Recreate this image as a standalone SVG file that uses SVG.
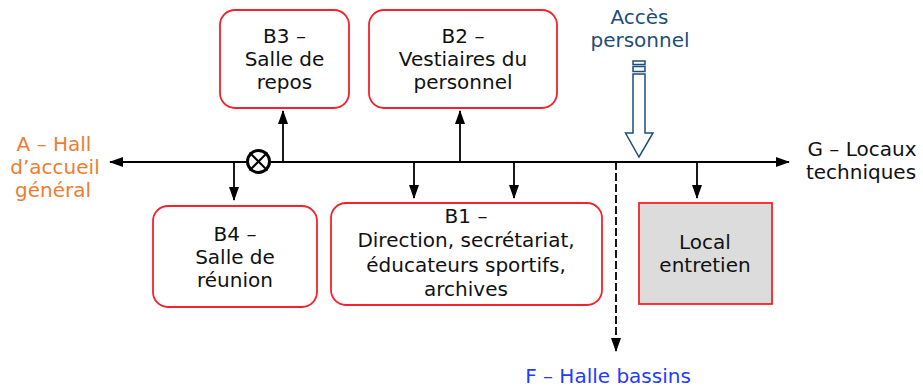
<svg xmlns="http://www.w3.org/2000/svg" width="923" height="389" viewBox="0 0 923 389">
<defs>
<style>
.box{fill:#fff;stroke:#f5222d;stroke-width:1.8}
.grey{fill:#dcdcdc;stroke:#f5222d;stroke-width:1.8}
.t{font-family:"DejaVu Sans",Verdana,sans-serif;font-size:20px;fill:#111;text-anchor:middle}
.ln{stroke:#000;stroke-width:1.8;fill:none}
</style>
<marker id="ah" viewBox="0 0 14 10" refX="13" refY="5" markerWidth="14" markerHeight="10" markerUnits="userSpaceOnUse" orient="auto">
<path d="M0,0 L14,5 L0,10 Z" fill="#000"/>
</marker>
</defs>
<rect width="923" height="389" fill="#fff"/>
<g id="connectors">
<line class="ln" x1="246" y1="162" x2="110" y2="162" marker-end="url(#ah)"/>
<line class="ln" x1="271" y1="162" x2="789" y2="162" marker-end="url(#ah)"/>
<line class="ln" x1="283" y1="162" x2="283" y2="111" marker-end="url(#ah)"/>
<line class="ln" x1="460" y1="162" x2="460" y2="111" marker-end="url(#ah)"/>
<line class="ln" x1="234" y1="162" x2="234" y2="200" marker-end="url(#ah)"/>
<line class="ln" x1="414" y1="162" x2="414" y2="198" marker-end="url(#ah)"/>
<line class="ln" x1="514" y1="162" x2="514" y2="198" marker-end="url(#ah)"/>
<line class="ln" x1="697" y1="162" x2="697" y2="198" marker-end="url(#ah)"/>
<line class="ln" x1="616" y1="162" x2="616" y2="351" stroke-dasharray="8,3" marker-end="url(#ah)"/>
<g id="valve">
<circle cx="258.5" cy="161.5" r="11" fill="#fff" stroke="#000" stroke-width="3"/>
<line x1="249.5" y1="152.5" x2="267.5" y2="170.5" stroke="#000" stroke-width="2"/>
<line x1="267.5" y1="152.5" x2="249.5" y2="170.5" stroke="#000" stroke-width="2"/>
</g>
</g>
<g id="access">
<rect x="633" y="61" width="12" height="3.5" fill="#fff" stroke="#1f4e79" stroke-width="1.5"/>
<rect x="633" y="66.5" width="12" height="5" fill="#fff" stroke="#1f4e79" stroke-width="1.5"/>
<path d="M633,74 L645,74 L645,133 L653,133 L639,157 L625.5,133 L633,133 Z" fill="#fff" stroke="#1f4e79" stroke-width="1.5"/>
<text x="639.5" y="24" class="t" style="fill:#1f4e79">Accès</text>
<text x="640" y="47" class="t" style="fill:#1f4e79">personnel</text>
</g>
<g id="B3">
<rect class="box" x="220" y="10" width="129" height="98" rx="15"/>
<text class="t" x="284.5" y="43">B3 –</text>
<text class="t" x="284.5" y="66">Salle de</text>
<text class="t" x="284.5" y="89">repos</text>
</g>
<g id="B2">
<rect class="box" x="369" y="10" width="188" height="98" rx="15"/>
<text class="t" x="463" y="43">B2 –</text>
<text class="t" x="463" y="66">Vestiaires du</text>
<text class="t" x="463" y="89">personnel</text>
</g>
<g id="B4">
<rect class="box" x="153" y="206" width="164" height="101" rx="15"/>
<text class="t" x="235" y="241">B4 –</text>
<text class="t" x="235" y="264">Salle de</text>
<text class="t" x="235" y="287">réunion</text>
</g>
<g id="B1">
<rect class="box" x="331" y="203" width="271" height="102" rx="15"/>
<text class="t" x="466" y="223">B1 –</text>
<text class="t" x="466" y="247">Direction, secrétariat,</text>
<text class="t" x="466" y="272">éducateurs sportifs,</text>
<text class="t" x="466" y="296">archives</text>
</g>
<g id="local">
<rect class="grey" x="639" y="203" width="133" height="101"/>
<text class="t" x="705" y="249">Local</text>
<text class="t" x="705" y="272">entretien</text>
</g>
<g id="A">
<text class="t" x="54" y="151" style="fill:#ed7d31">A – Hall</text>
<text class="t" x="55" y="174" style="fill:#ed7d31">d’accueil</text>
<text class="t" x="53" y="197" style="fill:#ed7d31">général</text>
</g>
<g id="G">
<text class="t" x="862" y="156">G – Locaux</text>
<text class="t" x="861" y="179">techniques</text>
</g>
<g id="F">
<text class="t" x="608" y="383" style="fill:#1f3cff">F – Halle bassins</text>
</g>
</svg>
